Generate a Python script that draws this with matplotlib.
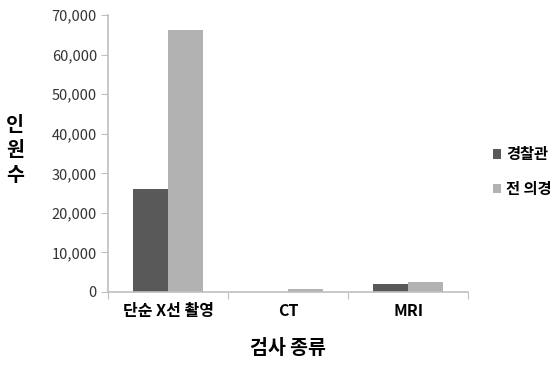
import matplotlib
matplotlib.use("Agg")
import matplotlib.pyplot as plt
import numpy as np

plt.rcParams['font.family'] = ['Noto Sans CJK KR', 'DejaVu Sans']

# data
categories = ['단순 X선 촬영', 'CT', 'MRI']
police = [26000, 50, 2000]          # 경찰관
conscripts = [66200, 800, 2400]     # 전 의경
series_names = ['경찰관', '전 의경']
yticks = [0, 10000, 20000, 30000, 40000, 50000, 60000, 70000]

dark = '#595959'
light = '#b2b2b2'
axis_col = '#bfbfbf'

fig = plt.figure(figsize=(5.54, 3.77), dpi=100)
ax = fig.add_axes([0.195, 0.2255, 0.65, 0.7345])

x = np.arange(len(categories))
w = 0.29
ax.bar(x - w/2, police, w, color=dark, label=series_names[0])
ax.bar(x + w/2, conscripts, w, color=light, label=series_names[1])

ax.set_xlim(-0.5, len(categories) - 0.5)
ax.set_ylim(0, 70000)
ax.set_yticks(yticks)
ax.set_yticklabels(['{:,}'.format(v) for v in yticks], fontsize=10.5, color='#333333')

# category ticks between groups, labels in the middle
ax.set_xticks(np.arange(len(categories) + 1) - 0.5)
ax.set_xticklabels([])
ax.set_xticks(x, minor=True)
ax.set_xticklabels(categories, minor=True, fontsize=11.5, fontweight='bold')
ax.tick_params(axis='x', which='minor', length=0, pad=8)
ax.tick_params(axis='x', which='major', length=5, color=axis_col)
ax.tick_params(axis='y', length=5, color=axis_col, pad=3)

for s in ['top', 'right']:
    ax.spines[s].set_visible(False)
for s in ['left', 'bottom']:
    ax.spines[s].set_color(axis_col)
    ax.spines[s].set_linewidth(1.2)

ax.set_xlabel('검사 종류', fontsize=14, fontweight='bold', labelpad=14)
fig.text(0.027, 0.60, '인\n원\n수', fontsize=14, fontweight='bold',
         ha='center', va='center', linespacing=1.4)

leg = fig.legend(loc='center left', bbox_to_anchor=(0.89, 0.545), frameon=False,
                 fontsize=11, handlelength=0.55, handleheight=0.55,
                 handletextpad=0.3, labelspacing=1.2, borderpad=0, borderaxespad=0)
for t in leg.get_texts():
    t.set_fontweight('bold')

fig.savefig('out.png', dpi=100)
